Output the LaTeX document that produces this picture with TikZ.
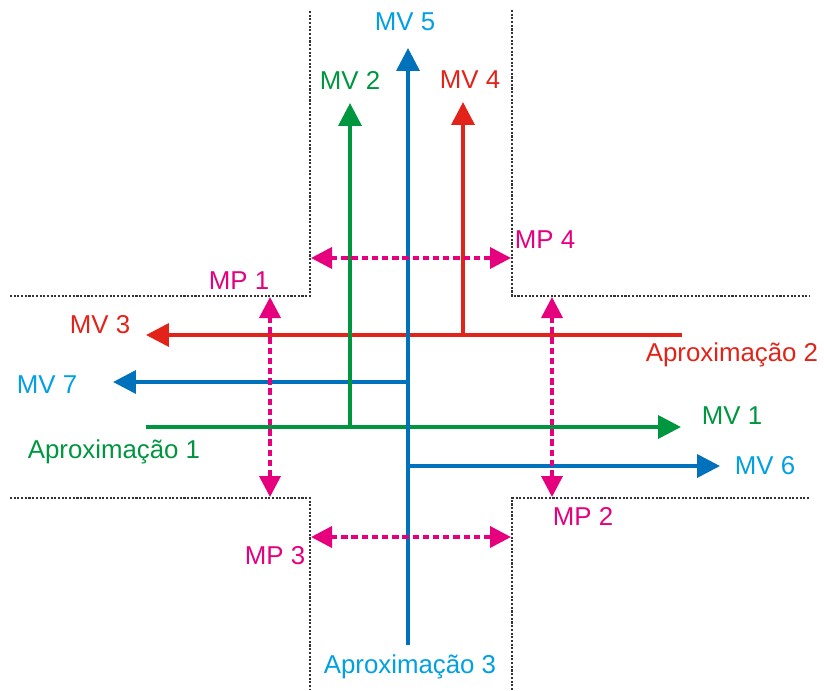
\documentclass[tikz,border=0pt]{standalone}
\usepackage{fontspec}
\setmainfont{Liberation Sans}
\usetikzlibrary{arrows.meta}
\definecolor{vgreen}{RGB}{0,150,64}
\definecolor{vred}{RGB}{226,35,26}
\definecolor{vblue}{RGB}{0,114,188}
\definecolor{tblue}{RGB}{0,160,227}
\definecolor{ppink}{RGB}{230,0,126}
\begin{document}
\begin{tikzpicture}[x=0.02cm, y=-0.02cm, font=\fontsize{14.7}{17}\selectfont,
  road/.style={dash pattern=on 1.2pt off 0.9pt, line width=1.1pt, black!80},
  mov/.style={-{Triangle[length=0.46cm,width=0.46cm]}, line width=2.1pt},
  ped/.style={{Triangle[length=0.42cm,width=0.42cm]}-{Triangle[length=0.42cm,width=0.42cm]}, line width=2.1pt, dash pattern=on 3.6pt off 2.2pt, ppink}]
\useasboundingbox (0,0) rectangle (824,690);
% road edges
\draw[road] (10,296) -- (310,296) -- (310,10);
\draw[road] (512,10) -- (512,296) -- (810,296);
\draw[road] (10,498) -- (310,498) -- (310,690);
\draw[road] (512,690) -- (512,498) -- (810,498);
% ends and junctions
\coordinate (a1) at (146,427);
\coordinate (a2) at (682,335);
\coordinate (a3) at (408,645);
\coordinate (j2) at (350,427);
\coordinate (j4) at (463,335);
\coordinate (j7) at (408,382);
\coordinate (j6) at (408,466);
\coordinate (t1) at (681,427);
\coordinate (t2) at (350,103);
\coordinate (t3) at (146,335);
\coordinate (t4) at (463,102);
\coordinate (t5) at (408,48);
\coordinate (t6) at (720,466);
\coordinate (t7) at (113,382);
% movements
\draw[mov, vred] (a2) -- (t3);
\draw[mov, vred] (j4) -- (t4);
\draw[mov, vblue] (j7) -- (t7);
\draw[mov, vgreen] (a1) -- (t1);
\draw[mov, vgreen] (j2) -- (t2);
\draw[mov, vblue] (j6) -- (t6);
\draw[mov, vblue] (a3) -- (t5);
% pedestrians
\coordinate (p1a) at (270,297);
\coordinate (p1b) at (270,497);
\coordinate (p2a) at (552,297);
\coordinate (p2b) at (552,497);
\coordinate (p3a) at (311,537);
\coordinate (p3b) at (511,537);
\coordinate (p4a) at (311,258);
\coordinate (p4b) at (511,258);
\draw[ped] (p1a) -- (p1b);
\draw[ped] (p2a) -- (p2b);
\draw[ped] (p3a) -- (p3b);
\draw[ped] (p4a) -- (p4b);
% labels
\node[tblue] (mv5) at (405,22) {MV 5};
\node[vgreen] (mv2) at (350,80) {MV 2};
\node[vred] (mv4) at (470,80) {MV 4};
\node[vred] (mv3) at (100,325) {MV 3};
\node[tblue] (mv7) at (47,385) {MV 7};
\node[vgreen] (mv1) at (732,416) {MV 1};
\node[tblue] (mv6) at (765,466) {MV 6};
\node[vred] (ap2) at (732,355) {Aproximação 2};
\node[vgreen] (ap1) at (114,452) {Aproximação 1};
\node[tblue] (ap3) at (410,667) {Aproximação 3};
\node[ppink] (mp1) at (239,281) {MP 1};
\node[ppink] (mp2) at (583,516) {MP 2};
\node[ppink] (mp3) at (275,556) {MP 3};
\node[ppink] (mp4) at (545,240) {MP 4};
\end{tikzpicture}
\end{document}
